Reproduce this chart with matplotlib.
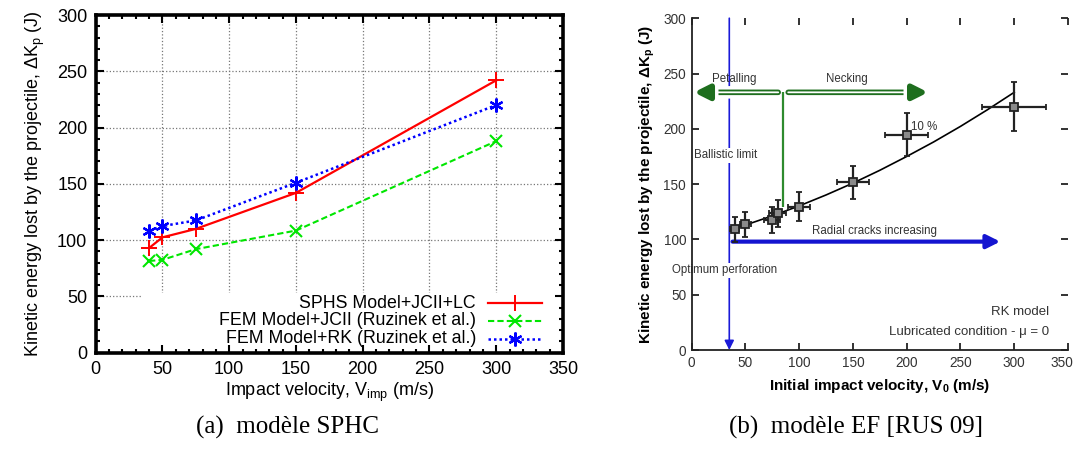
import matplotlib.pyplot as plt
import matplotlib.patheffects as pe
import matplotlib.transforms as mtransforms
from matplotlib.lines import Line2D
from matplotlib.patches import Rectangle
from matplotlib.ticker import MultipleLocator

plt.rcParams['font.family'] = ['Liberation Sans', 'DejaVu Sans']
plt.rcParams['mathtext.default'] = 'regular'

# --- (a) modele SPHC ---
v_imp = [40, 50, 75, 150, 300]
dk_sphs = [93, 102.5, 110, 142, 242]
dk_fem_jc = [81.5, 82.5, 92, 108.5, 188]
dk_fem_rk = [108.5, 112.5, 117.5, 151, 220]
labels_a = ['SPHS Model+JCII+LC', 'FEM Model+JCII (Ruzinek et al.)',
            'FEM Model+RK (Ruzinek et al.)']

# --- (b) modele EF [RUS 09] ---
v0 = [40, 50, 75, 80, 100, 150, 200, 300]
dk_ef = [109, 113.5, 117.5, 123.5, 129.5, 151.5, 194.5, 220]
v0_err = [4, 5, 7.5, 8, 10, 15, 20, 30]
dk_err = [10.9, 11.4, 11.8, 12.4, 13, 15.2, 19.5, 22]
fit_v = [40, 50, 75, 100, 125, 150, 175, 200, 225, 250, 275, 300]
fit_dk = [110, 113, 121.3, 130.3, 140.2, 150.9, 162.5, 175, 188.1, 202.2, 217.2, 233]

fig = plt.figure(figsize=(10.74, 4.5), dpi=100)

# left panel: grid on a background axes, plot on top
pos_a = [0.0891, 0.2162, 0.4351, 0.7504]
bg = fig.add_axes(pos_a, zorder=0)
bg.set_xlim(0, 350)
bg.set_ylim(0, 300)
bg.set_xticks(range(0, 351, 50))
bg.set_yticks(range(0, 301, 50))
bg.grid(True, ls=':', color='#777777', lw=0.9)
bg.tick_params(length=0, labelbottom=False, labelleft=False)
for s in bg.spines.values():
    s.set_visible(False)

ax1 = fig.add_axes(pos_a, zorder=1)
ax1.patch.set_alpha(0)
ax1.set_xlim(0, 350)
ax1.set_ylim(0, 300)
ax1.add_patch(Rectangle((34, 0.5), 315, 52.5, fc='white', ec='none', zorder=1))

styles = [dict(color='#ff0000', lw=1.6, ls='-', marker='+', ms=12, mew=1.4),
          dict(color='#00e600', lw=1.5, ls=(0, (3, 1.5)), marker='x', ms=9, mew=1.5),
          dict(color='#0000ff', lw=1.8, ls=(0, (1, 1.2)), marker=(6, 2, 0), ms=10, mew=1.6)]
for ys, st in zip([dk_sphs, dk_fem_jc, dk_fem_rk], styles):
    ax1.plot(v_imp, ys, zorder=3, **st)

# legend drawn by hand: text right aligned, sample on the right
rows = [0.147, 0.094, 0.041]
for lab, st, y in zip(labels_a, styles, rows):
    ax1.text(0.814, y, lab, transform=ax1.transAxes, ha='right', va='center',
             fontsize=12.8)
    st2 = dict(st)
    st2.pop('marker'); st2.pop('ms'); st2.pop('mew')
    ax1.add_line(Line2D([0.8395, 0.9543], [y, y], transform=ax1.transAxes, **st2))
    ax1.add_line(Line2D([0.897], [y], transform=ax1.transAxes, color=st['color'],
                        marker=st['marker'], ms=st['ms'], mew=st['mew'], ls='none'))

ax1.set_xticks(range(0, 351, 50))
ax1.set_yticks(range(0, 301, 50))
ax1.xaxis.set_minor_locator(MultipleLocator(10))
ax1.yaxis.set_minor_locator(MultipleLocator(10))
ax1.tick_params(which='both', direction='in', top=True, right=True, width=1.5,
                labelsize=13, pad=6)
ax1.tick_params(which='major', length=6)
ax1.tick_params(which='minor', length=3)
for s in ax1.spines.values():
    s.set_linewidth(2.6)
ax1.set_xlabel('Impact velocity, V$_{imp}$ (m/s)', fontsize=13, labelpad=2)
ax1.set_ylabel('Kinetic energy lost by the projectile, $\\Delta$K$_p$ (J)',
               fontsize=13, labelpad=7)

# right panel
ax2 = fig.add_axes([0.644, 0.2222, 0.3504, 0.7373])
ax2.set_xlim(0, 350)
ax2.set_ylim(0, 300)
ax2.set_xticks(range(0, 351, 50))
ax2.set_yticks(range(0, 301, 50))
ax2.spines['top'].set_visible(False)
ax2.spines['right'].set_visible(False)
for s in ['left', 'bottom']:
    ax2.spines[s].set_linewidth(1.3)
    ax2.spines[s].set_color('#222222')
ax2.tick_params(direction='in', top=True, right=True, length=5, width=1.3,
                labelsize=9.8, labelcolor='#333333', color='#222222', pad=4)
ax2.set_xlabel('Initial impact velocity, V$_0$ (m/s)', fontsize=11,
               fontweight='bold', labelpad=5)
ax2.set_ylabel('Kinetic energy lost by the projectile, $\\Delta$K$_p$ (J)',
               fontsize=11, fontweight='bold', labelpad=5)
# keep the last x tick label inside the figure
fig.canvas.draw()
last = ax2.get_xticklabels()[-1]
last.set_transform(last.get_transform() +
                   mtransforms.ScaledTranslation(-6 / 100, 0, fig.dpi_scale_trans))

txt = dict(fontsize=8.3, color='#333333')
white = dict(boxstyle='square,pad=0.15', fc='white', ec='none')

# ballistic limit line
ax2.annotate('', xy=(35, 0), xytext=(35, 300),
             arrowprops=dict(arrowstyle='-|>', color='#1a1ad8', lw=1.2,
                             mutation_scale=14, shrinkA=0, shrinkB=0), zorder=1)
ax2.text(32, 176, 'Ballistic limit', ha='center', va='center', bbox=white, zorder=2, **txt)
ax2.text(31, 72, 'Optimum perforation', ha='center', va='center', bbox=white, zorder=2, **txt)

# petalling / necking arrows
halo = [pe.withStroke(linewidth=9, foreground='white')]
green = '#1e6e1e'
for x_from, x_to in [(80.5, 2), (89.8, 220)]:
    a = ax2.annotate('', xy=(x_to, 233), xytext=(x_from, 233),
                     arrowprops=dict(arrowstyle='-|>', color=green, lw=4,
                                     mutation_scale=22, shrinkA=0, shrinkB=0),
                     zorder=3)
    a.arrow_patch.set_path_effects(halo)
    ax2.annotate('', xy=(x_to, 233), xytext=(x_from, 233),
                 arrowprops=dict(arrowstyle='-', color='white', lw=1.3,
                                 shrinkA=0, shrinkB=17), zorder=4)
ax2.vlines(85.2, 129.6, 233, color='#2e8b2e', lw=1.6, zorder=3)
ax2.text(40, 240, 'Petalling', ha='center', va='bottom', **txt)
ax2.text(144, 240, 'Necking', ha='center', va='bottom', **txt)

# radial cracks arrow
ax2.annotate('', xy=(287, 98), xytext=(38, 98),
             arrowprops=dict(arrowstyle='-|>', color='#1414d0', lw=3,
                             mutation_scale=20, shrinkA=0, shrinkB=0), zorder=3)
ax2.text(170, 102, 'Radial cracks increasing', ha='center', va='bottom', **txt)

# fit curve and measurements
ax2.plot(fit_v, fit_dk, color='black', lw=1.2, zorder=5)
ax2.errorbar(v0, dk_ef, xerr=v0_err, yerr=dk_err, fmt='s', ms=6,
             mfc='#8a8a8a', mec='#222222', mew=1.3, ecolor='#222222',
             elinewidth=1.6, capsize=2.5, capthick=1.3, zorder=6)
ax2.text(204, 202, '10 %', ha='left', va='center', **txt)
ax2.text(332, 34, 'RK model', ha='right', va='center', fontsize=9.5, color='#333333')
ax2.text(332, 16.6, 'Lubricated condition - \u03bc = 0', ha='right', va='center',
         fontsize=9.5, color='#333333')

# captions
fig.text(0.268, 0.051, '(a)  mod\u00e8le SPHC', ha='center', va='center',
         fontsize=18, family='Liberation Serif')
fig.text(0.797, 0.051, '(b)  mod\u00e8le EF [RUS 09]', ha='center', va='center',
         fontsize=18, family='Liberation Serif')

fig.savefig('out.png', dpi=100)
